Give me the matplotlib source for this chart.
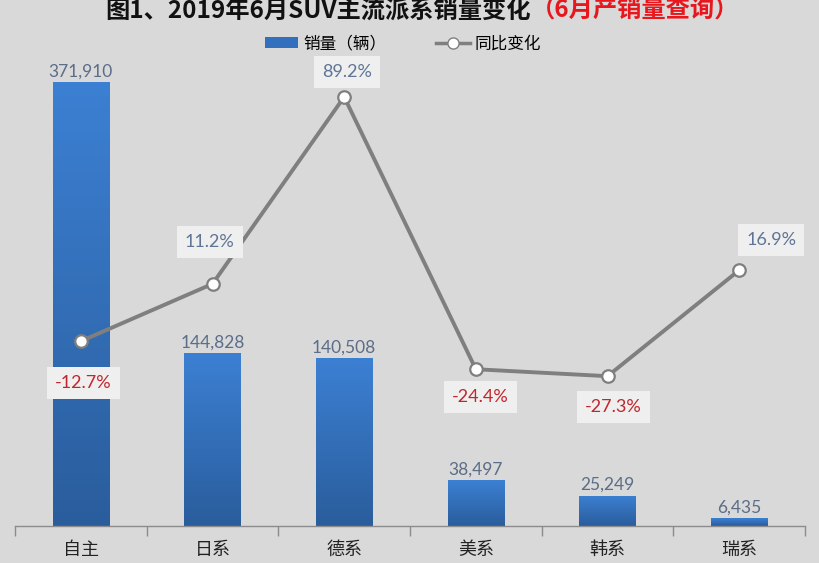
import matplotlib
matplotlib.use("Agg")
import matplotlib.pyplot as plt
import numpy as np
from matplotlib.colors import LinearSegmentedColormap
from matplotlib.lines import Line2D
from matplotlib.patches import Patch

plt.rcParams['font.family'] = ['Noto Sans CJK SC', 'DejaVu Sans']

categories = ["自主", "日系", "德系", "美系", "韩系", "瑞系"]
sales = [371910, 144828, 140508, 38497, 25249, 6435]
yoy = [-12.7, 11.2, 89.2, -24.4, -27.3, 16.9]
sales_labels = ["371,910", "144,828", "140,508", "38,497", "25,249", "6,435"]
yoy_labels = ["-12.7%", "11.2%", "89.2%", "-24.4%", "-27.3%", "16.9%"]
title_black = "图1、2019年6月SUV主流派系销量变化"
title_red = "（6月产销量查询）"
legend_bar = "销量（辆）"
legend_line = "同比变化"

# label offsets in points (style/placement)
yoy_offsets = [(2, -30), (-2, 30), (2, 18), (3, -20), (4, -22), (23, 22)]

BG = "#d9d9d9"
fig = plt.figure(figsize=(8.2, 5.63), dpi=100, facecolor=BG)
ax = fig.add_axes([15/820, 1-526/563, 790/820, (526-60)/563])
ax.set_facecolor(BG)
x = np.arange(len(categories))

bars = ax.bar(x, sales, width=0.43, color="#3270bd", zorder=2)
cmap = LinearSegmentedColormap.from_list("g", ["#2a5d9c", "#3c80d3"])
grad = np.linspace(0, 1, 256).reshape(-1, 1)
for b in bars:
    bx, by, bw, bh = b.get_x(), b.get_y(), b.get_width(), b.get_height()
    im = ax.imshow(grad, cmap=cmap, aspect='auto', origin='lower',
                   extent=[bx, bx + bw, by, by + bh], zorder=2.1)
    im.set_clip_path(b)
ax.set_xlim(-0.5, len(categories) - 0.5)
ax.set_ylim(0, 371910 * (526 - 60) / 444)

for xi, v, lab in zip(x, sales, sales_labels):
    ax.annotate(lab, (xi, v), xytext=(0, 2), textcoords="offset points",
                ha="center", va="bottom", fontsize=12.5, color="#5b6d88",
                family=["Lato", "DejaVu Sans"], zorder=5)

for s in ["top", "right", "left"]:
    ax.spines[s].set_visible(False)
ax.spines["bottom"].set_color("#8c8c8c")
ax.spines["bottom"].set_linewidth(1)
ax.set_yticks([])
ax.set_xticks(np.arange(len(categories) + 1) - 0.5)
ax.set_xticklabels([])
ax.tick_params(axis="x", length=7, color="#8c8c8c", width=1)
for xi, c in zip(x, categories):
    ax.text(xi, -0.032, c, transform=ax.get_xaxis_transform(), ha="center",
            va="top", fontsize=13, color="#222222")

ax2 = ax.twinx()
ax2.set_ylim(-89.8, 104.6)
for s in ax2.spines.values():
    s.set_visible(False)
ax2.set_yticks([])
ax2.plot(x, yoy, color="#7f7f7f", lw=2.8, marker="o", markersize=9,
         markerfacecolor="white", markeredgecolor="#7f7f7f",
         markeredgewidth=1.6, zorder=4)
for xi, v, lab, off in zip(x, yoy, yoy_labels, yoy_offsets):
    col = "#c0262c" if v < 0 else "#5f7595"
    ax2.annotate(lab, (xi, v), xytext=off, textcoords="offset points",
                 ha="center", va="center", fontsize=13, color=col,
                 family=["Lato", "DejaVu Sans"], zorder=6,
                 bbox=dict(boxstyle="square,pad=0.45", fc="#efefef", ec="none"))

# Title
fig.text(531/820, 1-11/563, title_black, ha="right", va="center",
         fontsize=17.5, fontweight="bold", color="#111111")
fig.text(531/820, 1-11/563, title_red, ha="left", va="center",
         fontsize=17.5, fontweight="bold", color="#e8161d")

# Legend
handles = [Patch(facecolor="#3270bd", edgecolor="none"),
           Line2D([0], [0], color="#7f7f7f", lw=2.5, marker="o", markersize=8,
                  markerfacecolor="white", markeredgecolor="#7f7f7f")]
fig.legend(handles, [legend_bar, legend_line], loc="center",
           bbox_to_anchor=(403/820, 1-44/563), ncol=2, frameon=False,
           fontsize=12, handlelength=2.0, handleheight=0.6, columnspacing=3.0,
           handletextpad=0.3)

fig.savefig("out.png", dpi=100, facecolor=BG)
